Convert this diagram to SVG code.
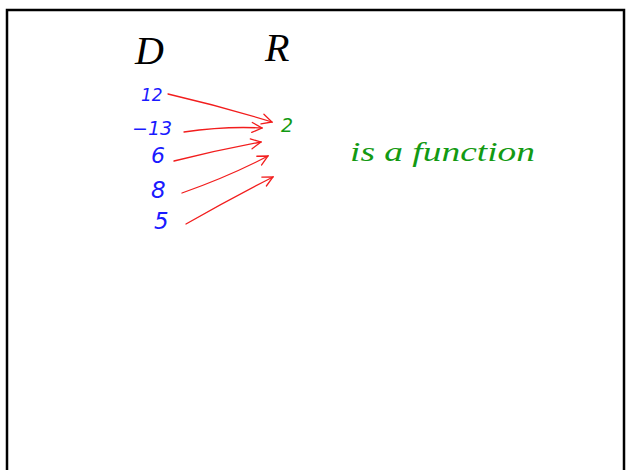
<svg xmlns="http://www.w3.org/2000/svg" width="626" height="470" viewBox="0 0 626 470">
<style>
.hw{font-family:"Liberation Serif","DejaVu Serif",serif;font-style:italic}
.dom{fill:#1a1aff;font-family:"DejaVu Sans","Liberation Sans",sans-serif;font-style:italic;font-weight:300}
.rng{fill:#139a13}
.hdr{fill:#000}
.arr{fill:none;stroke:#f21d1d;stroke-width:1.3;stroke-linecap:round;marker-end:url(#head)}
</style>
<defs>
<marker id="head" viewBox="0 0 12 12" refX="11" refY="6" markerWidth="12" markerHeight="12" markerUnits="userSpaceOnUse" orient="auto">
<path d="M1,1 L11,6 L1,11" fill="none" stroke="#f21d1d" stroke-width="1.3" stroke-linecap="round"/>
</marker>
</defs>
<rect x="7" y="10" width="617" height="480" fill="#fff" stroke="#000" stroke-width="2.5"/>
<g id="header-D"><text class="hw hdr" x="135" y="64" font-size="40">D</text></g>
<g id="header-R"><text class="hw hdr" x="265" y="61" font-size="40">R</text></g>
<g id="n12"><text class="dom" x="141" y="101" font-size="17">12</text></g>
<g id="n-13"><text class="dom" x="132" y="135" font-size="19">−13</text></g>
<g id="n6"><text class="dom" x="151" y="163" font-size="22">6</text></g>
<g id="n8"><text class="dom" x="151" y="198" font-size="23">8</text></g>
<g id="n5"><text class="dom" x="154" y="229" font-size="23">5</text></g>
<g id="n2"><text class="dom rng" x="281" y="132" font-size="19">2</text></g>
<g id="note"><text class="hw rng" x="350" y="161" font-size="28" textLength="185" lengthAdjust="spacingAndGlyphs">is a function</text></g>
<g id="connectors">
<path class="arr" d="M168,94 Q220,106 272,122"/>
<path class="arr" d="M184,132 Q225,126 262,128"/>
<path class="arr" d="M174,161 Q218,150 261,142"/>
<path class="arr" d="M182,193 Q230,176 268,156"/>
<path class="arr" d="M186,224 Q230,199 273,177"/>
</g>
</svg>
